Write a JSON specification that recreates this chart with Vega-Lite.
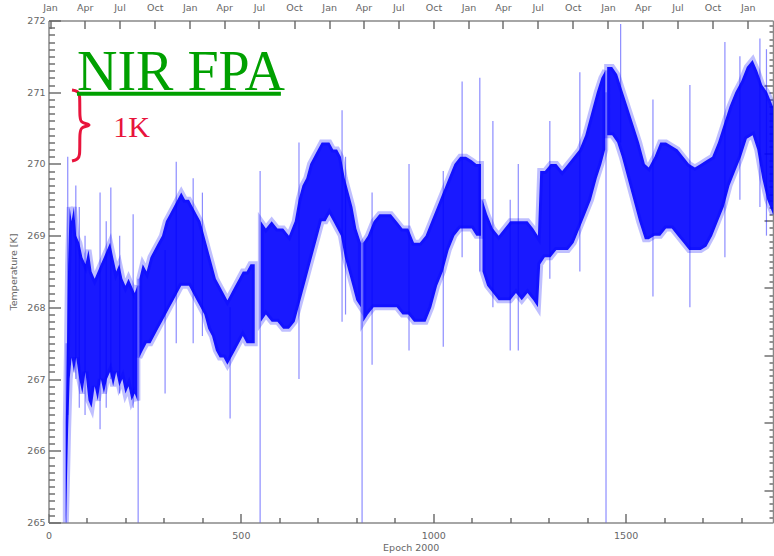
{
  "$schema": "https://vega.github.io/schema/vega-lite/v6.json",
  "width": 724.5,
  "height": 502,
  "autosize": {"type": "none"},
  "padding": {"left": 48.5, "top": 20.5, "right": 1, "bottom": 33.5},
  "background": "white",
  "config": {
    "view": {"stroke": null},
    "axis": {
      "labelFont": "DejaVu Sans", "labelFontSize": 9.5, "labelColor": "#666",
      "titleFont": "DejaVu Sans", "titleFontSize": 9.5, "titleFontWeight": "normal", "titleColor": "#666",
      "domainColor": "#888", "domainWidth": 1.5, "tickColor": "#666", "tickWidth": 1.4, "grid": false, "labelFlush": false
    }
  },
  "datasets": {
    "band": [
      {"seg":"A","day":45,"lo":265.0,"hi":266.4},{"seg":"A","day":48,"lo":265.6,"hi":267.4},{"seg":"A","day":51,"lo":266.3,"hi":268.6},
      {"seg":"A","day":55,"lo":267.0,"hi":269.4},{"seg":"A","day":60,"lo":267.3,"hi":269.2},{"seg":"A","day":66,"lo":267.1,"hi":269.4},
      {"seg":"A","day":72,"lo":267.3,"hi":269.0},{"seg":"A","day":80,"lo":267.0,"hi":268.9},{"seg":"A","day":88,"lo":266.8,"hi":268.7},
      {"seg":"A","day":96,"lo":267.1,"hi":268.6},{"seg":"A","day":104,"lo":266.7,"hi":268.8},{"seg":"A","day":112,"lo":266.6,"hi":268.5},
      {"seg":"A","day":120,"lo":266.9,"hi":268.4},{"seg":"A","day":128,"lo":266.7,"hi":268.5},{"seg":"A","day":136,"lo":267.0,"hi":268.6},
      {"seg":"A","day":144,"lo":266.8,"hi":268.7},{"seg":"A","day":152,"lo":267.0,"hi":268.8},{"seg":"A","day":160,"lo":267.1,"hi":268.9},
      {"seg":"A","day":168,"lo":266.9,"hi":268.7},{"seg":"A","day":176,"lo":267.1,"hi":268.5},{"seg":"A","day":184,"lo":266.9,"hi":268.6},
      {"seg":"A","day":192,"lo":267.0,"hi":268.4},{"seg":"A","day":200,"lo":266.8,"hi":268.3},{"seg":"A","day":208,"lo":266.9,"hi":268.4},
      {"seg":"A","day":216,"lo":266.7,"hi":268.3},{"seg":"A","day":224,"lo":266.8,"hi":268.2},{"seg":"A","day":231,"lo":266.7,"hi":268.3},
      {"seg":"B","day":236,"lo":267.3,"hi":268.4},{"seg":"B","day":245,"lo":267.4,"hi":268.6},{"seg":"B","day":255,"lo":267.5,"hi":268.5},
      {"seg":"B","day":265,"lo":267.5,"hi":268.7},{"seg":"B","day":275,"lo":267.6,"hi":268.8},{"seg":"B","day":285,"lo":267.7,"hi":268.9},
      {"seg":"B","day":295,"lo":267.8,"hi":269.0},{"seg":"B","day":305,"lo":267.9,"hi":269.2},{"seg":"B","day":315,"lo":268.0,"hi":269.3},
      {"seg":"B","day":325,"lo":268.1,"hi":269.4},{"seg":"B","day":335,"lo":268.2,"hi":269.5},{"seg":"B","day":345,"lo":268.3,"hi":269.6},
      {"seg":"B","day":355,"lo":268.3,"hi":269.5},{"seg":"B","day":365,"lo":268.3,"hi":269.5},{"seg":"B","day":375,"lo":268.2,"hi":269.4},
      {"seg":"B","day":385,"lo":268.1,"hi":269.3},{"seg":"B","day":395,"lo":268.0,"hi":269.2},{"seg":"B","day":405,"lo":267.9,"hi":269.0},
      {"seg":"B","day":415,"lo":267.7,"hi":268.8},{"seg":"B","day":425,"lo":267.6,"hi":268.6},{"seg":"B","day":435,"lo":267.4,"hi":268.4},
      {"seg":"B","day":445,"lo":267.3,"hi":268.3},{"seg":"B","day":455,"lo":267.3,"hi":268.2},{"seg":"B","day":465,"lo":267.2,"hi":268.1},
      {"seg":"B","day":475,"lo":267.3,"hi":268.2},{"seg":"B","day":485,"lo":267.4,"hi":268.3},{"seg":"B","day":495,"lo":267.5,"hi":268.4},
      {"seg":"B","day":505,"lo":267.6,"hi":268.5},{"seg":"B","day":515,"lo":267.5,"hi":268.5},{"seg":"B","day":525,"lo":267.5,"hi":268.6},
      {"seg":"B","day":536,"lo":267.5,"hi":268.6},
      {"seg":"C","day":552,"lo":267.8,"hi":269.2},{"seg":"C","day":565,"lo":267.9,"hi":269.1},{"seg":"C","day":580,"lo":267.8,"hi":269.2},
      {"seg":"C","day":595,"lo":267.8,"hi":269.1},{"seg":"C","day":610,"lo":267.7,"hi":269.1},{"seg":"C","day":625,"lo":267.7,"hi":269.0},
      {"seg":"C","day":640,"lo":267.8,"hi":269.2},{"seg":"C","day":650,"lo":268.0,"hi":269.5},{"seg":"C","day":660,"lo":268.2,"hi":269.7},
      {"seg":"C","day":670,"lo":268.4,"hi":269.8},{"seg":"C","day":680,"lo":268.6,"hi":270.0},{"seg":"C","day":690,"lo":268.8,"hi":270.1},
      {"seg":"C","day":700,"lo":269.0,"hi":270.2},{"seg":"C","day":710,"lo":269.2,"hi":270.3},{"seg":"C","day":720,"lo":269.2,"hi":270.3},
      {"seg":"C","day":730,"lo":269.3,"hi":270.3},{"seg":"C","day":740,"lo":269.2,"hi":270.2},{"seg":"C","day":750,"lo":269.1,"hi":270.2},
      {"seg":"C","day":760,"lo":269.0,"hi":270.1},{"seg":"C","day":770,"lo":268.7,"hi":269.8},{"seg":"C","day":780,"lo":268.5,"hi":269.6},
      {"seg":"C","day":790,"lo":268.3,"hi":269.4},{"seg":"C","day":800,"lo":268.1,"hi":269.1},{"seg":"C","day":812,"lo":268.0,"hi":268.9},
      {"seg":"D","day":818,"lo":267.8,"hi":268.9},{"seg":"D","day":830,"lo":267.9,"hi":269.0},{"seg":"D","day":845,"lo":268.0,"hi":269.2},
      {"seg":"D","day":860,"lo":268.0,"hi":269.3},{"seg":"D","day":875,"lo":268.0,"hi":269.3},{"seg":"D","day":890,"lo":268.0,"hi":269.3},
      {"seg":"D","day":905,"lo":268.0,"hi":269.2},{"seg":"D","day":920,"lo":267.9,"hi":269.1},{"seg":"D","day":935,"lo":267.9,"hi":269.1},
      {"seg":"D","day":950,"lo":267.8,"hi":268.9},{"seg":"D","day":965,"lo":267.8,"hi":268.9},{"seg":"D","day":980,"lo":267.8,"hi":269.0},
      {"seg":"D","day":995,"lo":268.0,"hi":269.2},{"seg":"D","day":1010,"lo":268.3,"hi":269.4},{"seg":"D","day":1025,"lo":268.5,"hi":269.6},
      {"seg":"D","day":1040,"lo":268.8,"hi":269.8},{"seg":"D","day":1055,"lo":269.0,"hi":270.0},{"seg":"D","day":1070,"lo":269.1,"hi":270.1},
      {"seg":"D","day":1085,"lo":269.1,"hi":270.1},{"seg":"D","day":1100,"lo":269.1,"hi":270.05},{"seg":"D","day":1112,"lo":269.0,"hi":270.0},
      {"seg":"D","day":1124,"lo":269.0,"hi":270.0},
      {"seg":"E","day":1128,"lo":268.5,"hi":269.5},{"seg":"E","day":1140,"lo":268.3,"hi":269.3},{"seg":"E","day":1155,"lo":268.2,"hi":269.1},
      {"seg":"E","day":1170,"lo":268.1,"hi":269.0},{"seg":"E","day":1185,"lo":268.1,"hi":269.1},{"seg":"E","day":1200,"lo":268.1,"hi":269.2},
      {"seg":"E","day":1215,"lo":268.2,"hi":269.2},{"seg":"E","day":1230,"lo":268.1,"hi":269.2},{"seg":"E","day":1245,"lo":268.2,"hi":269.2},
      {"seg":"E","day":1260,"lo":268.1,"hi":269.1},{"seg":"E","day":1272,"lo":268.0,"hi":269.0},{"seg":"E","day":1278,"lo":268.6,"hi":269.9},
      {"seg":"E","day":1290,"lo":268.7,"hi":269.9},{"seg":"E","day":1305,"lo":268.7,"hi":270.0},{"seg":"E","day":1320,"lo":268.8,"hi":270.0},
      {"seg":"E","day":1335,"lo":268.8,"hi":269.9},{"seg":"E","day":1350,"lo":268.8,"hi":270.0},{"seg":"E","day":1365,"lo":268.9,"hi":270.1},
      {"seg":"E","day":1380,"lo":269.1,"hi":270.2},{"seg":"E","day":1395,"lo":269.3,"hi":270.4},{"seg":"E","day":1410,"lo":269.5,"hi":270.7},
      {"seg":"E","day":1425,"lo":269.8,"hi":271.0},{"seg":"E","day":1437,"lo":270.0,"hi":271.2},{"seg":"E","day":1447,"lo":270.2,"hi":271.3},
      {"seg":"F","day":1452,"lo":270.4,"hi":271.35},{"seg":"F","day":1465,"lo":270.4,"hi":271.35},{"seg":"F","day":1478,"lo":270.3,"hi":271.25},
      {"seg":"F","day":1490,"lo":270.1,"hi":271.05},{"seg":"F","day":1505,"lo":269.8,"hi":270.8},{"seg":"F","day":1520,"lo":269.5,"hi":270.55},
      {"seg":"F","day":1535,"lo":269.2,"hi":270.3},{"seg":"F","day":1550,"lo":268.95,"hi":270.0},{"seg":"F","day":1560,"lo":268.95,"hi":269.95},
      {"seg":"F","day":1575,"lo":269.0,"hi":270.1},{"seg":"F","day":1590,"lo":269.0,"hi":270.3},{"seg":"F","day":1605,"lo":269.1,"hi":270.3},
      {"seg":"F","day":1620,"lo":269.1,"hi":270.25},{"seg":"F","day":1635,"lo":269.0,"hi":270.2},{"seg":"F","day":1650,"lo":268.9,"hi":270.1},
      {"seg":"F","day":1665,"lo":268.8,"hi":270.0},{"seg":"F","day":1680,"lo":268.8,"hi":269.95},{"seg":"F","day":1695,"lo":268.8,"hi":270.0},
      {"seg":"F","day":1710,"lo":268.85,"hi":270.05},{"seg":"F","day":1725,"lo":269.0,"hi":270.1},{"seg":"F","day":1740,"lo":269.2,"hi":270.3},
      {"seg":"F","day":1755,"lo":269.4,"hi":270.55},{"seg":"F","day":1770,"lo":269.7,"hi":270.8},{"seg":"F","day":1785,"lo":269.9,"hi":271.0},
      {"seg":"F","day":1800,"lo":270.1,"hi":271.15},{"seg":"F","day":1815,"lo":270.35,"hi":271.35},{"seg":"F","day":1830,"lo":270.4,"hi":271.45},
      {"seg":"F","day":1842,"lo":270.2,"hi":271.3},{"seg":"F","day":1855,"lo":269.8,"hi":271.1},{"seg":"F","day":1868,"lo":269.5,"hi":271.0},
      {"seg":"F","day":1883,"lo":269.3,"hi":270.8}
    ],
    "spikes": [
      {"day":46,"lo":265.0,"hi":267.5},{"day":50,"lo":266.5,"hi":270.1},{"day":71,"lo":267.0,"hi":269.7},{"day":80,"lo":266.6,"hi":269.4},
      {"day":95,"lo":266.5,"hi":269.0},{"day":134,"lo":266.3,"hi":269.6},{"day":150,"lo":266.6,"hi":269.2},{"day":162,"lo":267.0,"hi":269.67},
      {"day":185,"lo":266.8,"hi":269.0},{"day":220,"lo":266.6,"hi":269.3},{"day":233,"lo":265.0,"hi":268.4},{"day":303,"lo":266.8,"hi":268.8},
      {"day":332,"lo":267.5,"hi":270.03},{"day":376,"lo":267.5,"hi":269.8},{"day":400,"lo":267.6,"hi":269.6},{"day":472,"lo":266.45,"hi":268.0},
      {"day":550,"lo":265.0,"hi":269.9},{"day":651,"lo":267.0,"hi":270.3},{"day":763,"lo":267.8,"hi":270.75},{"day":772,"lo":267.9,"hi":270.1},
      {"day":815,"lo":265.0,"hi":268.9},{"day":841,"lo":267.2,"hi":269.6},{"day":937,"lo":267.4,"hi":270.0},{"day":1026,"lo":267.45,"hi":269.9},
      {"day":1075,"lo":268.7,"hi":271.15},{"day":1121,"lo":268.5,"hi":271.2},{"day":1155,"lo":268.0,"hi":270.6},{"day":1200,"lo":267.4,"hi":269.5},
      {"day":1221,"lo":267.4,"hi":270.0},{"day":1303,"lo":268.4,"hi":270.6},{"day":1381,"lo":268.5,"hi":271.28},{"day":1449,"lo":265.0,"hi":271.0},
      {"day":1487,"lo":270.3,"hi":271.95},{"day":1571,"lo":268.15,"hi":270.9},{"day":1667,"lo":268.0,"hi":271.1},{"day":1758,"lo":268.7,"hi":271.7},
      {"day":1797,"lo":269.5,"hi":271.5},{"day":1849,"lo":269.4,"hi":271.75},{"day":1866,"lo":269.0,"hi":271.6}
    ],
    "brace": [
      {"i":1,"day":61.1,"t":271.031},{"i":2,"day":74.1,"t":271.010},{"i":3,"day":80.6,"t":270.947},{"i":4,"day":81.9,"t":270.668},
      {"i":5,"day":87.1,"t":270.584},{"i":6,"day":105.3,"t":270.543},{"i":7,"day":87.1,"t":270.501},{"i":8,"day":81.9,"t":270.417},
      {"i":9,"day":80.6,"t":270.138},{"i":10,"day":74.1,"t":270.068},{"i":11,"day":61.1,"t":270.040}
    ]
  },
  "resolve": {"axis": {"x": "independent", "y": "independent"}},
  "layer": [
    {
      "data": {"name": "band"},
      "mark": {"type": "area", "color": "#0000ff", "fillOpacity": 0.9, "stroke": "#0000ff", "strokeOpacity": 0.25, "strokeWidth": 6},
      "encoding": {
        "x": {"field": "day", "type": "quantitative", "scale": {"domain": [0, 1883], "nice": false, "zero": false},
          "axis": {"orient": "bottom", "values": [0, 500, 1000, 1500], "format": "d", "ticks": false, "labelPadding": 8, "title": "Epoch 2000", "titlePadding": 2}},
        "y": {"field": "lo", "type": "quantitative", "scale": {"domain": [265, 272], "nice": false, "zero": false},
          "axis": {"orient": "left", "values": [265, 266, 267, 268, 269, 270, 271, 272], "ticks": false, "labelPadding": 3.5, "title": "Temperature [K]", "titlePadding": 8}},
        "y2": {"field": "hi"},
        "detail": {"field": "seg", "type": "nominal"}
      }
    },
    {
      "data": {"name": "spikes"},
      "mark": {"type": "rule", "color": "#0000ff", "opacity": 0.45, "strokeWidth": 1.2},
      "encoding": {
        "x": {"field": "day", "type": "quantitative", "scale": {"domain": [0, 1883], "nice": false, "zero": false},
          "axis": {"orient": "bottom", "values": [0, 500, 1000, 1500], "tickSize": -9, "labels": false, "domain": false, "title": null}},
        "y": {"field": "lo", "type": "quantitative", "scale": {"domain": [265, 272], "nice": false, "zero": false},
          "axis": {"orient": "left", "values": [265, 266, 267, 268, 269, 270, 271, 272], "tickSize": -12, "labels": false, "domain": false, "title": null}},
        "y2": {"field": "hi"}
      }
    },
    {
      "data": {"values": [{"label": "NIR FPA", "day": 74, "t": 271.03}]},
      "mark": {"type": "text", "align": "left", "baseline": "alphabetic", "font": "Liberation Serif", "fontSize": 56, "color": "#00a000"},
      "encoding": {
        "x": {"field": "day", "type": "quantitative", "scale": {"domain": [0, 1883], "nice": false, "zero": false},
          "axis": {"orient": "top", "values": [4,94.32,184.64,275.95,367.26,456.58,546.9,638.21,729.52,818.84,909.16,1000.47,1091.78,1181.11,1271.42,1362.73,1454.04,1544.36,1634.67,1725.99,1817.3],
            "labelExpr": "timeFormat(datetime(2000, 0, 2 + floor((datum.value - 4) / 0.9925)), '%b')", "ticks": false, "labelPadding": 8, "title": null}},
        "y": {"field": "t", "type": "quantitative", "scale": {"domain": [265, 272], "nice": false, "zero": false},
          "axis": {"orient": "right", "values": [265.45,266.39,267.33,268.27,269.21,270.15,271.09], "tickSize": -9, "labels": false, "domain": false, "title": null}},
        "text": {"field": "label"}
      }
    },
    {
      "data": {"name": "brace"},
      "mark": {"type": "line", "color": "#e8143c", "strokeWidth": 3, "interpolate": "cardinal"},
      "encoding": {
        "x": {"field": "day", "type": "quantitative", "scale": {"domain": [0, 1883], "nice": false, "zero": false},
          "axis": {"orient": "bottom", "values": [100,200,300,400,600,700,800,900,1100,1200,1300,1400,1600,1700,1800], "tickSize": -5, "labels": false, "domain": false, "title": null}},
        "y": {"field": "t", "type": "quantitative", "scale": {"domain": [265, 272], "nice": false, "zero": false},
          "axis": {"orient": "right", "values": [265.07,265.17,265.26,265.36,265.54,265.64,265.73,265.83,265.92,266.01,266.11,266.2,266.3,266.48,266.58,266.67,266.76,266.86,266.95,267.05,267.14,267.23,267.42,267.52,267.61,267.7,267.8,267.89,267.99,268.08,268.17,268.36,268.46,268.55,268.64,268.74,268.83,268.92,269.02,269.11,269.3,269.39,269.49,269.58,269.68,269.77,269.86,269.96,270.05,270.24,270.33,270.43,270.52,270.61,270.71,270.8,270.9,270.99,271.18,271.27,271.37,271.46,271.55,271.65,271.74,271.84,271.93], "tickSize": -4, "labels": false, "domain": false, "title": null}},
        "order": {"field": "i", "type": "quantitative"}
      }
    },
    {
      "data": {"values": [{"x1": 74, "x2": 604, "t": 270.98}]},
      "mark": {"type": "rule", "color": "#00a000", "strokeWidth": 4},
      "encoding": {
        "x": {"field": "x1", "type": "quantitative", "scale": {"domain": [0, 1883], "nice": false, "zero": false},
          "axis": {"orient": "top", "values": [4,94.32,184.64,275.95,367.26,456.58,546.9,638.21,729.52,818.84,909.16,1000.47,1091.78,1181.11,1271.42,1362.73,1454.04,1544.36,1634.67,1725.99,1817.3], "tickSize": -8, "labels": false, "domain": false, "title": null}},
        "x2": {"field": "x2"},
        "y": {"field": "t", "type": "quantitative", "scale": {"domain": [265, 272], "nice": false, "zero": false},
          "axis": {"orient": "left", "values": [265.1,265.2,265.3,265.4,265.5,265.6,265.7,265.8,265.9,266.1,266.2,266.3,266.4,266.5,266.6,266.7,266.8,266.9,267.1,267.2,267.3,267.4,267.5,267.6,267.7,267.8,267.9,268.1,268.2,268.3,268.4,268.5,268.6,268.7,268.8,268.9,269.1,269.2,269.3,269.4,269.5,269.6,269.7,269.8,269.9,270.1,270.2,270.3,270.4,270.5,270.6,270.7,270.8,270.9,271.1,271.2,271.3,271.4,271.5,271.6,271.7,271.8,271.9], "tickSize": -6, "labels": false, "domain": false, "title": null}}
      }
    },
    {
      "data": {"values": [{"label": "1K", "day": 168, "t": 270.375}]},
      "mark": {"type": "text", "align": "left", "baseline": "alphabetic", "font": "Liberation Serif", "fontSize": 30, "color": "#e8143c"},
      "encoding": {
        "x": {"field": "day", "type": "quantitative", "scale": {"domain": [0, 1883], "nice": false, "zero": false}, "axis": null},
        "y": {"field": "t", "type": "quantitative", "scale": {"domain": [265, 272], "nice": false, "zero": false},
          "axis": {"orient": "right", "values": [265, 272], "ticks": false, "labels": false, "domain": true, "title": null}},
        "text": {"field": "label"}
      }
    }
  ]
}
